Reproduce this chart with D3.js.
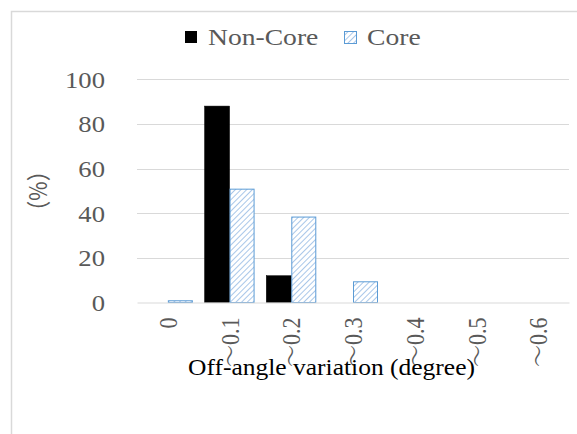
<!DOCTYPE html>
<html><head><meta charset="utf-8">
<script src="https://cdn.jsdelivr.net/npm/d3@7"></script>
<style>body{margin:0;background:#fff}svg{display:block}</style>
</head><body>
<svg id="c" width="577" height="434"></svg>
<script>
const categories = ["0","～0.1","～0.2","～0.3","～0.4","～0.5","～0.6"];
const nonCore = [0, 88, 12, 0, 0, 0, 0];
const core = [1, 51, 38.5, 9.5, 0, 0, 0];
const yTicks = [0, 20, 40, 60, 80, 100];
const seriesNames = ["Non-Core", "Core"];
const xTitle = "Off-angle variation (degree)";
const yTitle = "（%）";

const svg = d3.select("#c");
const font = "'Liberation Serif','Times New Roman','Noto Serif CJK JP','Noto Sans CJK JP',serif";
const L = 137, R = 569, T = 79.3, B = 302.5;
const sx = 1.16; // horizontal stretch of the original picture

const defs = svg.append("defs");
const pat = defs.append("pattern").attr("id","hatch").attr("patternUnits","userSpaceOnUse")
  .attr("width",4).attr("height",4).attr("patternTransform","rotate(45)");
pat.append("rect").attr("width",4).attr("height",4).attr("fill","#ffffff");
pat.append("line").attr("x1",0).attr("y1",0).attr("x2",0).attr("y2",4)
  .attr("stroke","#8db4e2").attr("stroke-width",1.5);

svg.append("rect").attr("x",11.5).attr("y",11.5).attr("width",620).attr("height",500)
  .attr("fill","none").attr("stroke","#d9d9d9").attr("stroke-width",1.5);

const x = d3.scaleBand().domain(categories).range([L, R]);
const y = d3.scaleLinear().domain([0,100]).range([B, T]);
const bw = 25;

// grid
svg.append("g").selectAll("line").data(yTicks.filter(d=>d>0)).join("line")
  .attr("x1",L).attr("x2",R).attr("y1",d=>Math.round(y(d))+0.5).attr("y2",d=>Math.round(y(d))+0.5)
  .attr("stroke","#d9d9d9").attr("stroke-width",1);

// y tick labels
const yAxis = svg.append("g").attr("transform",`translate(${L},0)`)
  .call(d3.axisLeft(y).tickValues(yTicks).tickSize(0));
yAxis.select(".domain").remove();
yAxis.selectAll("text").attr("x",0).attr("dy","0.34em")
  .attr("transform",`translate(-32,0) scale(${sx},1)`)
  .attr("font-family",font).attr("font-size",23).attr("fill","#595959");

// bars
svg.append("g").selectAll("rect").data(nonCore).join("rect")
  .attr("x",(d,i)=>x(categories[i])+x.bandwidth()/2-bw)
  .attr("y",d=>y(d)).attr("width",bw).attr("height",d=>B-y(d))
  .attr("fill","#000").attr("stroke","#000").attr("stroke-width",0.5)
  .attr("display",d=>d>0?null:"none");
svg.append("g").selectAll("rect").data(core).join("rect")
  .attr("x",(d,i)=>x(categories[i])+x.bandwidth()/2+0.5)
  .attr("y",d=>y(d)+0.5).attr("width",bw-1).attr("height",d=>Math.max(0,B-y(d)-0.5))
  .attr("fill","url(#hatch)").attr("stroke","#5b9bd5").attr("stroke-width",1)
  .attr("display",d=>d>0?null:"none");

// x axis + labels
const xAxis = svg.append("g").attr("transform",`translate(0,${B})`)
  .call(d3.axisBottom(x).tickSize(0));
xAxis.select(".domain").attr("stroke","#d9d9d9").attr("stroke-width",1.2);
xAxis.selectAll("text").attr("y",0).attr("x",0).attr("dy","0.36em")
  .attr("text-anchor","end")
  .attr("transform",`translate(0,15) scale(${sx},1) rotate(-90)`)
  .attr("font-family",font).attr("font-size",22).attr("fill","#595959");

// axis titles
svg.append("text").attr("x",331.5).attr("y",375).attr("text-anchor","middle")
  .attr("font-family",font).attr("font-size",24).attr("fill","#000")
  .attr("textLength",287).attr("lengthAdjust","spacingAndGlyphs")
  .text(xTitle);
svg.append("text").attr("transform",`translate(47,191) scale(${sx},1) rotate(-90)`)
  .attr("text-anchor","middle")
  .attr("font-family","'Noto Sans CJK JP',sans-serif").attr("font-size",21).attr("fill","#595959")
  .text(yTitle);

// legend
const lg = svg.append("g");
lg.append("rect").attr("x",185).attr("y",31).attr("width",12).attr("height",12).attr("fill","#000");
lg.append("text").attr("transform",`translate(208,45) scale(${sx+0.04},1)`)
  .attr("font-family",font).attr("font-size",23).attr("fill","#595959").text(seriesNames[0]);
lg.append("rect").attr("x",344.5).attr("y",31.5).attr("width",12).attr("height",12)
  .attr("fill","url(#hatch)").attr("stroke","#5b9bd5");
lg.append("text").attr("transform",`translate(367,45) scale(${sx+0.04},1)`)
  .attr("font-family",font).attr("font-size",23).attr("fill","#595959").text(seriesNames[1]);
</script>
</body></html>
